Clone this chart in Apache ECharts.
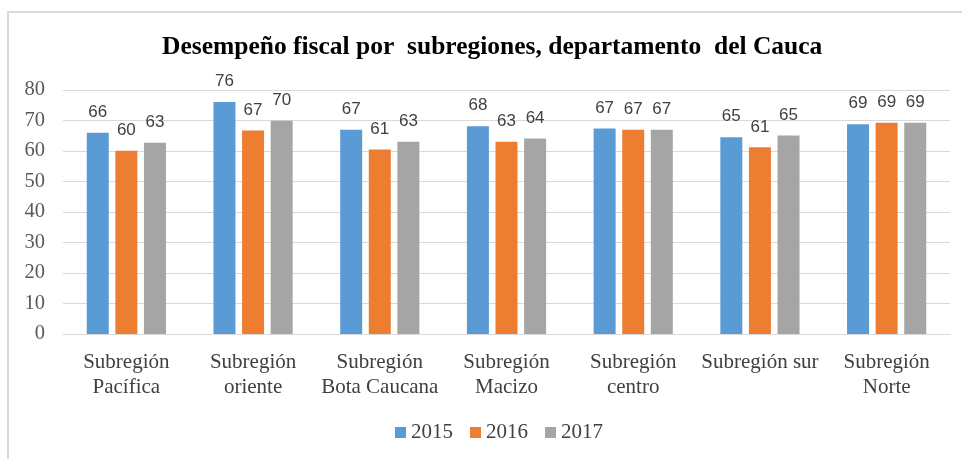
<!DOCTYPE html>
<html>
<head>
<meta charset="utf-8">
<script src="https://cdn.jsdelivr.net/npm/echarts@6/dist/echarts.min.js"></script>
<style>
html,body{margin:0;padding:0;background:#fff;}
#c{width:962px;height:459px;}
</style>
</head>
<body>
<div id="c"></div>
<script>
var categories = ["Subregión\nPacífica", "Subregión\noriente", "Subregión\nBota Caucana", "Subregión\nMacizo", "Subregión\ncentro", "Subregión sur", "Subregión\nNorte"];
var seriesNames = ["2015", "2016", "2017"];
var values2015 = [66.0, 76.1, 67.0, 68.1, 67.4, 64.5, 68.8];
var values2016 = [60.1, 66.7, 60.5, 63.0, 67.0, 61.2, 69.3];
var values2017 = [62.7, 69.9, 63.0, 64.1, 67.0, 65.1, 69.3];
var yTicks = [0, 10, 20, 30, 40, 50, 60, 70, 80];
var colors = ["#5B9BD5", "#ED7D31", "#A5A5A5"];

var chart = echarts.init(document.getElementById('c'), null, {renderer: 'canvas'});
var serif = '"Liberation Serif", "Times New Roman", serif';
var sans = '"Liberation Sans", Arial, sans-serif';
function mk(name, data, color) {
  return {
    name: name, type: 'bar', data: data, barWidth: 22, barGap: '30%',
    itemStyle: {color: color},
    label: {show: true, position: 'top', distance: 12, color: '#404040',
      fontFamily: sans, fontSize: 17,
      formatter: function (p) { return Math.round(p.value); }}
  };
}
chart.setOption({
  backgroundColor: '#ffffff',
  animation: false,
  graphic: [{type: 'rect', shape: {x: 8, y: 12, width: 1000, height: 500},
    style: {fill: 'none', stroke: '#d9d9d9', lineWidth: 2}, z: -1}],
  title: {text: 'Desempeño fiscal por  subregiones, departamento  del Cauca', left: 157, top: 29,
    textStyle: {fontFamily: serif, fontWeight: 'bold', fontSize: 25.5, color: '#000'}},
  legend: {data: seriesNames, bottom: 11, left: 390, itemWidth: 11, itemHeight: 11, itemGap: 17,
    icon: 'rect', textStyle: {fontFamily: serif, fontSize: 21, color: '#404040'}},
  grid: {left: 63, right: 12, top: 90, bottom: 125},
  xAxis: {type: 'category', data: categories,
    axisLine: {lineStyle: {color: '#d9d9d9'}}, axisTick: {show: false},
    axisLabel: {fontFamily: serif, fontSize: 21, color: '#404040', lineHeight: 25, margin: 16, interval: 0}},
  yAxis: {type: 'value', min: yTicks[0], max: yTicks[yTicks.length - 1], interval: 10,
    axisLine: {show: false}, axisTick: {show: false},
    splitLine: {lineStyle: {color: '#d9d9d9'}},
    axisLabel: {fontFamily: serif, fontSize: 20.5, color: '#595959', margin: 18}},
  series: [mk(seriesNames[0], values2015, colors[0]), mk(seriesNames[1], values2016, colors[1]), mk(seriesNames[2], values2017, colors[2])]
});
</script>
</body>
</html>
